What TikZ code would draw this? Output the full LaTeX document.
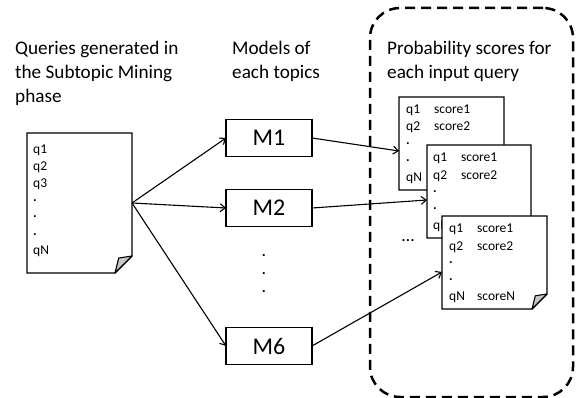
\documentclass[tikz,border=0pt]{standalone}
\usepackage{fontspec}
\setmainfont{Carlito}
\usetikzlibrary{arrows.meta,calc}
\definecolor{foldgray}{RGB}{200,200,200}
\tikzset{
 lbl/.style={font=\fontsize{19.2}{24}\selectfont, align=left, anchor=base west, inner sep=0pt},
 model/.style={draw, line width=1.2pt, minimum width=86pt, minimum height=37pt, inner sep=0pt, outer sep=0pt, font=\fontsize{24}{28}\selectfont},
 docframe/.style={draw=none, inner sep=0pt, outer sep=0pt},
 doctext/.style={font=\fontsize{13.5}{17}\selectfont, align=left, anchor=base west, inner sep=0pt},
 arr/.style={line width=1.1pt, -{Straight Barb[length=5pt,width=8pt]}},
 docline/.style={line width=1.1pt, fill=white},
 region/.style={draw, dash pattern=on 10pt off 6pt, line width=2.5pt, rounded corners=30pt, inner sep=0pt, outer sep=0pt},
}
\newcommand\docshape[2]{%
 \draw[docline] (#1.north west) -- (#1.north east) -- ([yshift=#2]#1.south east) -- ([xshift=-#2]#1.south east) -- (#1.south west) -- cycle;
 \draw[line width=1.1pt, fill=foldgray, line join=round] ([yshift=#2]#1.south east) -- ([xshift=-0.78*#2, yshift=0.88*#2]#1.south east) -- ([xshift=-#2]#1.south east) -- cycle;
}
\newcommand\qdot{\raisebox{3pt}{\textbf{.}}}
\newcommand\qs[2]{\makebox[28pt][l]{#1}#2}
\begin{document}
\begin{tikzpicture}[x=1pt,y=-1pt]
\useasboundingbox (0,0) rectangle (584,398);
% dashed region
\node[region, minimum width=203pt, minimum height=389pt] (scorebox) at (471.5,202.5) {};
% titles (base anchor = last line)
\node[lbl] (t1) at (15,103) {Queries generated in\\the Subtopic Mining\\phase};
\node[lbl] (t2) at (232,79) {Models of\\each topics};
\node[lbl] (t3) at (387,79) {Probability scores for\\each input query};
% query document
\node[docframe, minimum width=105pt, minimum height=140pt] (qdoc) at (79.5,203) {};
\docshape{qdoc}{17pt}
\node[doctext] (qdoctext) at (33,255) {q1\\q2\\q3\\\qdot\\\qdot\\\qdot\\qN};
% models
\node[model] (m1) at (269,138) {M1};
\node[model] (m2) at (269,208) {M2};
\node[model] (m6) at (269,346) {M6};
\node[font=\fontsize{18}{18}\selectfont, align=center, inner sep=0pt] (vdots) at (264,274) {.\\.\\.};
% score documents
\node[docframe, minimum width=105pt, minimum height=93pt] (d1) at (451.5,143.5) {};
\docshape{d1}{15pt}
\node[doctext] (d1text) at (406,182) {\qs{q1}{score1}\\\qs{q2}{score2}\\\qdot\\\qdot\\qN};
\node[docframe, minimum width=104pt, minimum height=93pt] (d2) at (479,191.5) {};
\docshape{d2}{15pt}
\node[doctext] (d2text) at (433,230) {\qs{q1}{score1}\\\qs{q2}{score2}\\\qdot\\\qdot\\qN};
\node[docframe, minimum width=105pt, minimum height=93pt] (d3) at (494.5,262.5) {};
\docshape{d3}{15pt}
\node[doctext] (d3text) at (449,301) {\qs{q1}{score1}\\\qs{q2}{score2}\\\qdot\\\qdot\\\qs{qN}{scoreN}};
\node[font=\fontsize{18}{18}\selectfont, inner sep=0pt] (hdots) at (408,241) {\textellipsis};
% arrows
\draw[arr] (qdoc.east) -- (m1.west);
\draw[arr] (qdoc.east) -- (m2.west);
\draw[arr] (qdoc.east) -- (m6.west);
\draw[arr] (m1.east) -- ([yshift=-7.5pt]d1.west);
\draw[arr] (m2.east) -- ([yshift=-8.5pt]d2.west);
\draw[arr] (m6.east) -- ([yshift=-9.5pt]d3.west);
\end{tikzpicture}
\end{document}
